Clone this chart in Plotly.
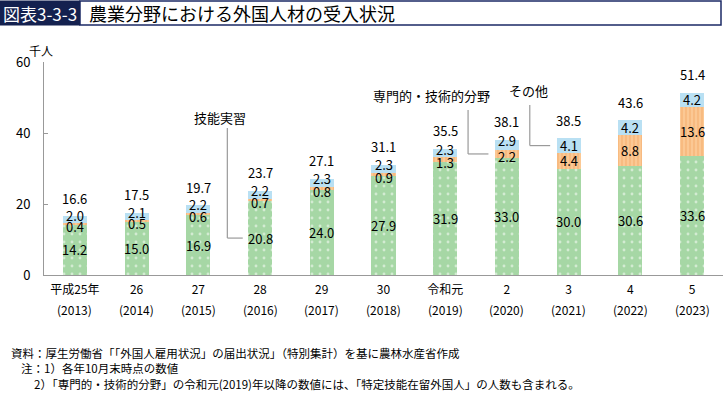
import plotly.graph_objects as go

# ---- data ----
years_jp = ["平成25年", "26", "27", "28", "29", "30", "令和元", "2", "3", "4", "5"]
years_ad = ["(2013)", "(2014)", "(2015)", "(2016)", "(2017)", "(2018)",
            "(2019)", "(2020)", "(2021)", "(2022)", "(2023)"]
ginou = [14.2, 15.0, 16.9, 20.8, 24.0, 27.9, 31.9, 33.0, 30.0, 30.6, 33.6]      # 技能実習
senmon = [0.4, 0.5, 0.6, 0.7, 0.8, 0.9, 1.3, 2.2, 4.4, 8.8, 13.6]              # 専門的・技術的分野
sonota = [2.0, 2.1, 2.2, 2.2, 2.3, 2.3, 2.3, 2.9, 4.1, 4.2, 4.2]               # その他
totals = [16.6, 17.5, 19.7, 23.7, 27.1, 31.1, 35.5, 38.1, 38.5, 43.6, 51.4]
y_ticks = [0, 20, 40, 60]

FONT = "Noto Sans CJK JP"
W, H = 723, 395
L, R, T, B = 44, 0, 62, 120
PW, PH = W - L - R, H - T - B


def px(xp):
    return (xp - L) / PW


def py(yp):
    return (H - B - yp) / PH


x = list(range(len(years_jp)))
BW = 0.39

fig = go.Figure()
fig.add_trace(go.Bar(
    x=x, y=ginou, name="技能実習", width=BW,
    marker=dict(color="#a6d7a5", line=dict(width=0),
                pattern=dict(shape=".", fgcolor="white", bgcolor="#a6d7a5",
                             size=8, solidity=0.1)),
))
fig.add_trace(go.Bar(
    x=x, y=senmon, name="専門的・技術的分野", width=BW,
    marker=dict(color="#fbc894", line=dict(width=0),
                pattern=dict(shape="|", fgcolor="#f2a35c", bgcolor="#fbc894",
                             size=4, solidity=0.35)),
))
fig.add_trace(go.Bar(
    x=x, y=sonota, name="その他", width=BW,
    marker=dict(color="#b9e0f3", line=dict(width=0)),
))

ann = []
lab_font = dict(family=FONT, size=13, color="black")
for i in x:
    small = senmon[i] < 3
    ann.append(dict(x=i, y=ginou[i] / 2, text=f"{ginou[i]:.1f}", showarrow=False,
                    font=lab_font, xref="x", yref="y"))
    ann.append(dict(x=i, y=ginou[i] + senmon[i] / 2, text=f"{senmon[i]:.1f}",
                    showarrow=False, font=lab_font, xref="x", yref="y",
                    yshift=-3 if small else 0))
    ann.append(dict(x=i, y=ginou[i] + senmon[i] + sonota[i] / 2, text=f"{sonota[i]:.1f}",
                    showarrow=False, font=lab_font, xref="x", yref="y",
                    yshift=4 if small else 0))
    ann.append(dict(x=i, y=totals[i], text=f"{totals[i]:.1f}", showarrow=False,
                    font=lab_font, xref="x", yref="y", yshift=18))
    ann.append(dict(x=i, y=0, text=years_ad[i], showarrow=False,
                    font=dict(family=FONT, size=12, color="black"),
                    xref="x", yref="y", yshift=-34))

# callouts
call_font = dict(family=FONT, size=13, color="black")
shapes = []
line_style = dict(color="#9a9a9a", width=1.2)


def callout(text, tx, ty, vx, vtop, vbot, hend):
    ann.append(dict(x=tx, y=ty, text=text, showarrow=False, font=call_font,
                    xref="x", yref="y"))
    shapes.append(dict(type="line", xref="x", yref="y", x0=vx, x1=vx, y0=vtop, y1=vbot,
                       line=line_style))
    shapes.append(dict(type="line", xref="x", yref="y", x0=vx, x1=hend, y0=vbot, y1=vbot,
                       line=line_style))


callout("技能実習", 3 - 0.65, 44.5, 3 - 0.53, 41.4, ginou[3] / 2, 3 - 0.28)
callout("専門的・技術的分野", 7 - 1.23, 50.7, 7 - 0.63, 46.5, ginou[7] + senmon[7] / 2, 7 - 0.3)
callout("その他", 8 - 0.65, 52.1, 8 - 0.63, 47.9, ginou[8] + senmon[8] + sonota[8] / 2, 8 - 0.3)

# title bar
shapes.append(dict(type="rect", xref="paper", yref="paper",
                   x0=px(80), x1=px(721), y0=py(25), y1=py(1),
                   line=dict(color="#1b2a66", width=1.5), fillcolor="white", layer="above"))
shapes.append(dict(type="rect", xref="paper", yref="paper",
                   x0=px(0), x1=px(80), y0=py(25.5), y1=py(0.5),
                   line=dict(width=0), fillcolor="#14214f", layer="above"))
ann.append(dict(x=px(40), y=py(13), xref="paper", yref="paper", text="図表3-3-3",
                showarrow=False, font=dict(family=FONT, size=17, color="white"),
                xanchor="center", yanchor="middle"))
ann.append(dict(x=px(87), y=py(13), xref="paper", yref="paper",
                text="農業分野における外国人材の受入状況",
                showarrow=False, font=dict(family=FONT, size=18, color="black"),
                xanchor="left", yanchor="middle"))

# unit
ann.append(dict(x=px(41), y=py(51), xref="paper", yref="paper", text="千人",
                showarrow=False, font=dict(family=FONT, size=12, color="black"),
                xanchor="center", yanchor="middle"))

# footnotes
foot_font = dict(family=FONT, size=11.5, color="black")
ann.append(dict(x=px(9), y=py(353), xref="paper", yref="paper",
                text="資料：厚生労働省「「外国人雇用状況」の届出状況」（特別集計）を基に農林水産省作成",
                showarrow=False, font=foot_font, xanchor="left", yanchor="middle"))
ann.append(dict(x=px(19), y=py(368), xref="paper", yref="paper",
                text="注：1）各年10月末時点の数値",
                showarrow=False, font=foot_font, xanchor="left", yanchor="middle"))
ann.append(dict(x=px(32), y=py(384), xref="paper", yref="paper",
                text="2）「専門的・技術的分野」の令和元(2019)年以降の数値には、「特定技能在留外国人」の人数も含まれる。",
                showarrow=False, font=foot_font, xanchor="left", yanchor="middle"))

fig.update_layout(
    width=W, height=H,
    margin=dict(l=L, r=R, t=T, b=B, pad=0),
    barmode="stack",
    showlegend=False,
    plot_bgcolor="white", paper_bgcolor="white",
    font=dict(family=FONT, size=12, color="black"),
    annotations=ann,
    shapes=shapes,
    xaxis=dict(range=[-0.5, len(x) - 0.5], tickmode="array", tickvals=x, ticktext=years_jp,
               showline=True, linecolor="#999999", linewidth=1, ticks="",
               showgrid=False, zeroline=False, automargin=False,
               tickfont=dict(family=FONT, size=12, color="black"),
               ticklabelstandoff=4),
    yaxis=dict(range=[0, 60], tickmode="array", tickvals=y_ticks,
               showline=True, linecolor="#999999", linewidth=1, ticks="inside",
               ticklen=4, tickcolor="#999999", showgrid=False, zeroline=False,
               automargin=False,
               tickfont=dict(family=FONT, size=13, color="black"), ticklabelstandoff=10),
)

fig.write_html("out.html", config={"displayModeBar": False},
               post_script="document.body.style.margin='0px';document.body.style.padding='0px';")
